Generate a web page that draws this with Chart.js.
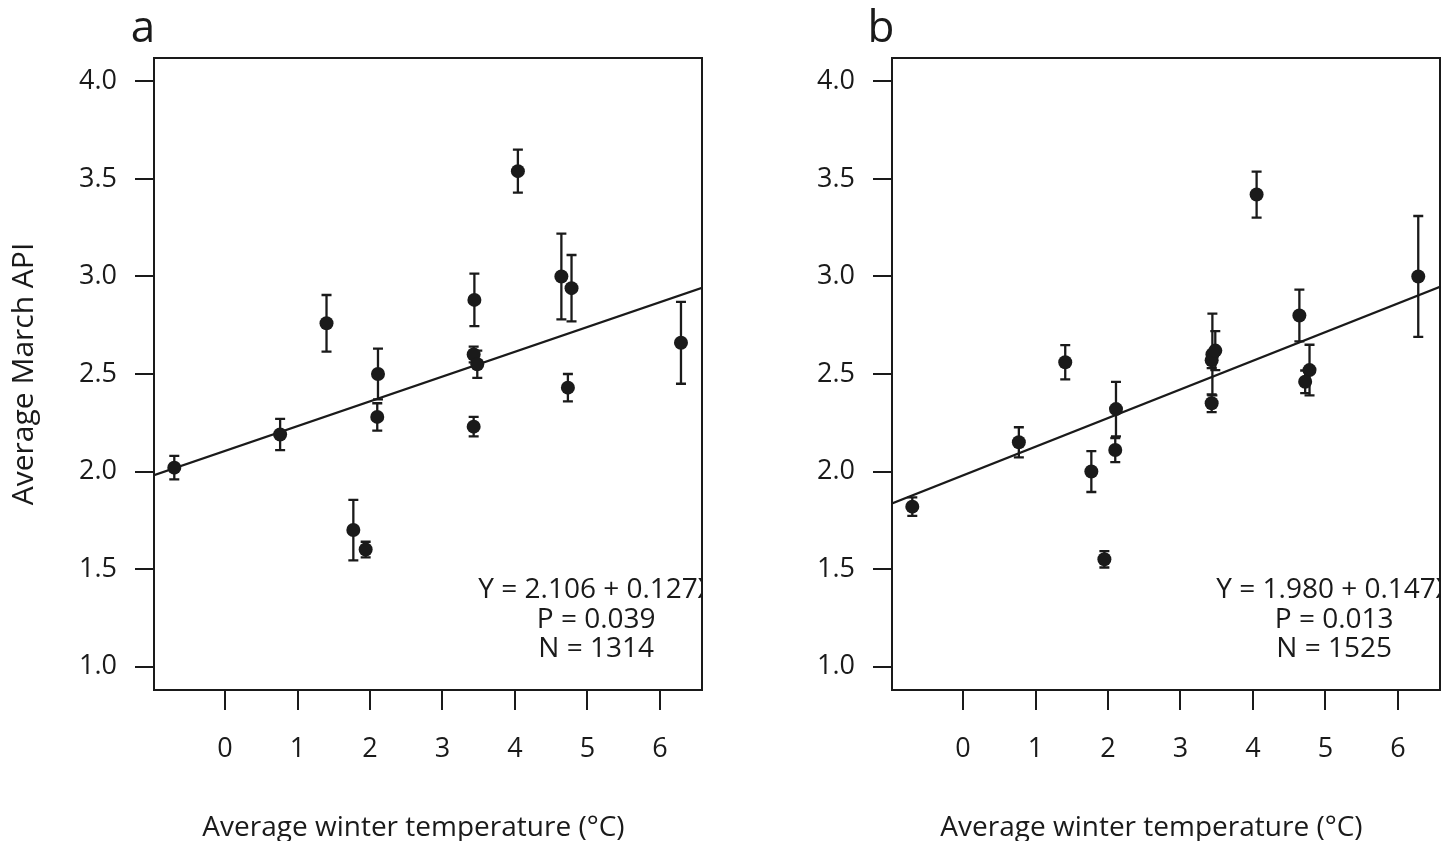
<!DOCTYPE html>
<html>
<head>
<meta charset="utf-8">
<script src="https://cdn.jsdelivr.net/npm/chart.js@4.4.1/dist/chart.umd.min.js"></script>
<style>
  body { margin: 0; background: #fff; }
  .panel { position: absolute; top: 0; }
</style>
</head>
<body>
<div class="panel" style="left:0px"><canvas id="chartA" width="726" height="841"></canvas></div>
<div class="panel" style="left:726px"><canvas id="chartB" width="727" height="841"></canvas></div>
<script>
// datos
const xTicks = [0, 1, 2, 3, 4, 5, 6];
const yTicks = [1.0, 1.5, 2.0, 2.5, 3.0, 3.5, 4.0];

// panel a
const tempA = [-0.70, 0.76, 1.40, 2.11, 2.10, 1.77, 1.94, 4.04, 3.44, 3.43, 3.48, 3.43, 4.64, 4.78, 4.73, 6.29];
const apiA  = [2.02, 2.19, 2.76, 2.50, 2.28, 1.70, 1.60, 3.54, 2.88, 2.60, 2.55, 2.23, 3.00, 2.94, 2.43, 2.66];
const errA  = [0.06, 0.08, 0.145, 0.13, 0.07, 0.155, 0.04, 0.11, 0.135, 0.04, 0.07, 0.05, 0.22, 0.17, 0.07, 0.21];
const coefA = [2.106, 0.127];
const statsA = ['Y = 2.106 + 0.127X', 'P = 0.039', 'N = 1314'];

// panel b
const tempB = [-0.70, 0.77, 1.41, 2.11, 2.10, 1.77, 1.95, 4.05, 3.44, 3.43, 3.48, 3.43, 4.64, 4.78, 4.72, 6.28];
const apiB  = [1.82, 2.15, 2.56, 2.32, 2.11, 2.00, 1.55, 3.42, 2.60, 2.57, 2.62, 2.35, 2.80, 2.52, 2.46, 3.00];
const errB  = [0.047, 0.077, 0.088, 0.14, 0.062, 0.105, 0.042, 0.118, 0.21, 0.04, 0.10, 0.045, 0.133, 0.13, 0.058, 0.31];
const coefB = [1.980, 0.147];
const statsB = ['Y = 1.980 + 0.147X', 'P = 0.013', 'N = 1525'];

const X_MIN = -0.98, X_MAX = 6.58;
const Y_MIN = 0.88, Y_MAX = 4.12;
const INK = '#1a1a1a';
const FONT = "'Open Sans', 'Noto Sans', sans-serif";

// barras de error, caja, letra y texto de la regresión
const panelDecor = {
  id: 'panelDecor',
  beforeDatasetsDraw(chart, args, opts) {
    const ctx = chart.ctx;
    const xs = chart.scales.x, ys = chart.scales.y;
    ctx.save();
    ctx.strokeStyle = INK;
    ctx.lineWidth = 2.3;
    opts.temps.forEach((t, i) => {
      const px = xs.getPixelForValue(t);
      const top = ys.getPixelForValue(opts.api[i] + opts.err[i]);
      const bot = ys.getPixelForValue(opts.api[i] - opts.err[i]);
      ctx.beginPath();
      ctx.moveTo(px, top); ctx.lineTo(px, bot);
      ctx.moveTo(px - 5, top); ctx.lineTo(px + 5, top);
      ctx.moveTo(px - 5, bot); ctx.lineTo(px + 5, bot);
      ctx.stroke();
    });
    ctx.restore();
  },
  afterDraw(chart, args, opts) {
    const ctx = chart.ctx;
    const a = chart.chartArea;
    const xs = chart.scales.x, ys = chart.scales.y;
    ctx.save();
    ctx.strokeStyle = INK;
    ctx.lineWidth = 2;
    ctx.strokeRect(a.left, a.top, a.right - a.left, a.bottom - a.top);
    ctx.fillStyle = INK;
    ctx.font = '44px ' + FONT;
    ctx.textAlign = 'center';
    ctx.textBaseline = 'alphabetic';
    ctx.fillText(opts.letter, a.left - 11, 42);
    // texto recortado por la caja como en el original
    ctx.beginPath();
    ctx.rect(a.left, a.top, a.right - a.left, a.bottom - a.top);
    ctx.clip();
    ctx.font = '28px ' + FONT;
    ctx.textBaseline = 'middle';
    opts.stats.forEach((s, i) => {
      ctx.fillText(s, xs.getPixelForValue(5.12), ys.getPixelForValue(1.39 - 0.15 * i));
    });
    ctx.restore();
  }
};

function makePanel(id, letter, temps, api, err, coef, stats, yAxisWidth, rightPad, showYTitle) {
  const ctx = document.getElementById(id).getContext('2d');
  return new Chart(ctx, {
    type: 'scatter',
    data: {
      datasets: [{
        data: temps.map((t, i) => ({ x: t, y: api[i] })),
        backgroundColor: INK,
        borderWidth: 0,
        pointRadius: 7,
        order: 1
      }, {
        type: 'line',
        data: [
          { x: X_MIN, y: coef[0] + coef[1] * X_MIN },
          { x: X_MAX, y: coef[0] + coef[1] * X_MAX }
        ],
        borderColor: INK,
        borderWidth: 2.2,
        pointRadius: 0,
        fill: false,
        order: 2
      }]
    },
    options: {
      responsive: false,
      devicePixelRatio: 1,
      animation: false,
      layout: { padding: { top: 58, right: rightPad, left: 0, bottom: 0 } },
      plugins: {
        legend: { display: false },
        tooltip: { enabled: false },
        panelDecor: { letter: letter, temps: temps, api: api, err: err, stats: stats }
      },
      scales: {
        x: {
          type: 'linear',
          min: X_MIN,
          max: X_MAX,
          afterBuildTicks: s => { s.ticks = xTicks.map(v => ({ value: v })); },
          afterFit: s => { s.height = 151; },
          grid: { drawOnChartArea: false, tickLength: 20, color: INK, lineWidth: 2 },
          border: { color: INK, width: 2 },
          ticks: { color: INK, font: { family: FONT, size: 27 }, padding: 23, maxRotation: 0, autoSkip: false },
          title: {
            display: true,
            // espacios finales para desplazar el título a la izquierda como en el original
            text: 'Average winter temperature (°C)\u00a0\u00a0\u00a0\u00a0',
            color: INK,
            font: { family: FONT, size: 28 },
            padding: { top: 0, bottom: -4 }
          }
        },
        y: {
          type: 'linear',
          min: Y_MIN,
          max: Y_MAX,
          afterBuildTicks: s => { s.ticks = yTicks.map(v => ({ value: v })); },
          afterFit: s => { s.width = yAxisWidth; },
          grid: { drawOnChartArea: false, tickLength: 19, color: INK, lineWidth: 2 },
          border: { color: INK, width: 2 },
          ticks: {
            color: INK,
            font: { family: FONT, size: 27 },
            padding: 18,
            autoSkip: false,
            callback: v => v.toFixed(1)
          },
          title: {
            display: showYTitle,
            text: 'Average March API',
            color: INK,
            font: { family: FONT, size: 30 },
            padding: { top: 6, bottom: 0 }
          }
        }
      }
    },
    plugins: [panelDecor]
  });
}

makePanel('chartA', 'a', tempA, apiA, errA, coefA, statsA, 154, 24, true);
makePanel('chartB', 'b', tempB, apiB, errB, coefB, statsB, 166, 13, false);
</script>
</body>
</html>
